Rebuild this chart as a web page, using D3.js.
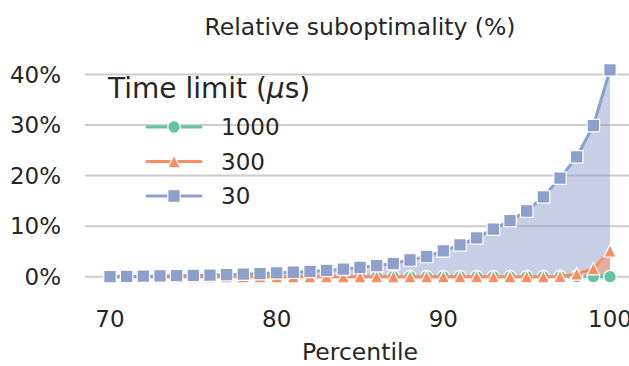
<!DOCTYPE html>
<html>
<head>
<meta charset="utf-8">
<script src="https://cdn.jsdelivr.net/npm/d3@7"></script>
<style>
  html, body { margin: 0; padding: 0; background: #fff; }
  svg { display: block; }
  text { font-family: "DejaVu Sans", sans-serif; fill: #262626; }
</style>
</head>
<body>
<svg id="chart" width="629" height="366"></svg>
<script>
// ---- data ----
const percentiles = d3.range(70, 101); // 70..100
const seriesNames = ["1000", "300", "30"];
const values1000 = [0,0,0,0,0,0,0,0,0,0,0,0,0,0,0,0,0,0,0,0,0,0,0,0,0,0,0,0,0,0,0];
const values300  = [0,0,0,0,0,0,0,0,0,0,0,0,0,0,0,0,0,0,0,0,0,0,0,0,0,0,0,0.05,0.55,1.6,5.1];
const values30   = [0.0,0.05,0.1,0.15,0.2,0.25,0.32,0.4,0.5,0.62,0.75,0.88,1.05,1.25,1.5,1.82,2.2,2.6,3.3,4.0,5.1,6.3,7.7,9.4,11.1,13.0,15.8,19.5,23.7,29.9,40.9];
const xTicks = [70, 80, 90, 100];
const yTicks = [0, 10, 20, 30, 40];
const colors = {"1000": "#66c2a5", "300": "#fc8d62", "30": "#8da0cb"};
const markers = {"1000": "circle", "300": "triangle", "30": "square"};
const titleText = "Relative suboptimality (%)";
const xLabel = "Percentile";

const series = [
  {name: "1000", values: values1000},
  {name: "300", values: values300},
  {name: "30", values: values30}
];

// ---- layout ----
const svg = d3.select("#chart");
const x = d3.scaleLinear().domain([68.5, 101.5]).range([85, 635]);
const y = d3.scaleLinear().domain([0, 40]).range([276.7, 74.5]);
const MS = 12.5;

// grid
svg.append("g").selectAll("line").data(yTicks).join("line")
  .attr("x1", 85).attr("x2", 635)
  .attr("y1", d => y(d)).attr("y2", d => y(d))
  .attr("stroke", "#cccccc").attr("stroke-width", 2);

// y tick labels
svg.append("g").selectAll("text").data(yTicks).join("text")
  .attr("x", 61).attr("y", d => y(d))
  .attr("dy", "0.36em")
  .attr("text-anchor", "end")
  .style("font-size", "23px")
  .text(d => d + "%");

// x tick labels
svg.append("g").selectAll("text").data(xTicks).join("text")
  .attr("x", d => x(d)).attr("y", 327)
  .attr("text-anchor", "middle")
  .style("font-size", "23px")
  .text(d => d);

// title and x label
svg.append("text").attr("x", 360).attr("y", 35).attr("text-anchor", "middle")
  .style("font-size", "23.5px").text(titleText);
svg.append("text").attr("x", 360).attr("y", 360).attr("text-anchor", "middle")
  .style("font-size", "23.5px").text(xLabel);

// fills: 30 first, then 300, then 1000
const area = d3.area().x((d, i) => x(percentiles[i])).y0(y(0)).y1(d => y(d));
["30", "300", "1000"].forEach(n => {
  const s = series.find(s => s.name === n);
  svg.append("path").datum(s.values).attr("d", area)
    .attr("fill", colors[n]).attr("fill-opacity", 0.5);
});

// markers
function markerPath(type, cx, cy, size) {
  const h = size / 2;
  if (type === "square") return `M${cx-h},${cy-h}h${size}v${size}h${-size}Z`;
  if (type === "triangle") return `M${cx},${cy-h}L${cx+h},${cy+h}L${cx-h},${cy+h}Z`;
  return `M${cx-h},${cy}A${h},${h} 0 1,0 ${cx+h},${cy}A${h},${h} 0 1,0 ${cx-h},${cy}Z`;
}

const line = d3.line().x((d, i) => x(percentiles[i])).y(d => y(d));
["1000", "300", "30"].forEach(n => {
  const s = series.find(s => s.name === n);
  const g = svg.append("g");
  g.append("path").datum(s.values).attr("d", line)
    .attr("fill", "none").attr("stroke", colors[n]).attr("stroke-width", 3)
    .attr("stroke-linejoin", "round").attr("stroke-linecap", "round");
  g.selectAll("path.m").data(s.values).join("path").attr("class", "m")
    .attr("d", (d, i) => markerPath(markers[n], x(percentiles[i]), y(d), MS))
    .attr("fill", colors[n]).attr("stroke", "#fff").attr("stroke-width", 1.2);
});

// legend
const leg = svg.append("g");
leg.append("text").attr("x", 108).attr("y", 98).style("font-size", "28px")
  .html('Time limit (<tspan font-style="italic">μ</tspan>s)');
const rowsY = [127, 161.5, 196];
seriesNames.forEach((n, i) => {
  const ry = rowsY[i];
  leg.append("line").attr("x1", 147).attr("x2", 201).attr("y1", ry).attr("y2", ry)
    .attr("stroke", colors[n]).attr("stroke-width", 3).attr("stroke-linecap", "round");
  leg.append("path").attr("d", markerPath(markers[n], 174, ry, MS))
    .attr("fill", colors[n]).attr("stroke", "#fff").attr("stroke-width", 1.2);
  leg.append("text").attr("x", 221).attr("y", ry).attr("dy", "0.36em")
    .style("font-size", "23px").text(n);
});
</script>
</body>
</html>
